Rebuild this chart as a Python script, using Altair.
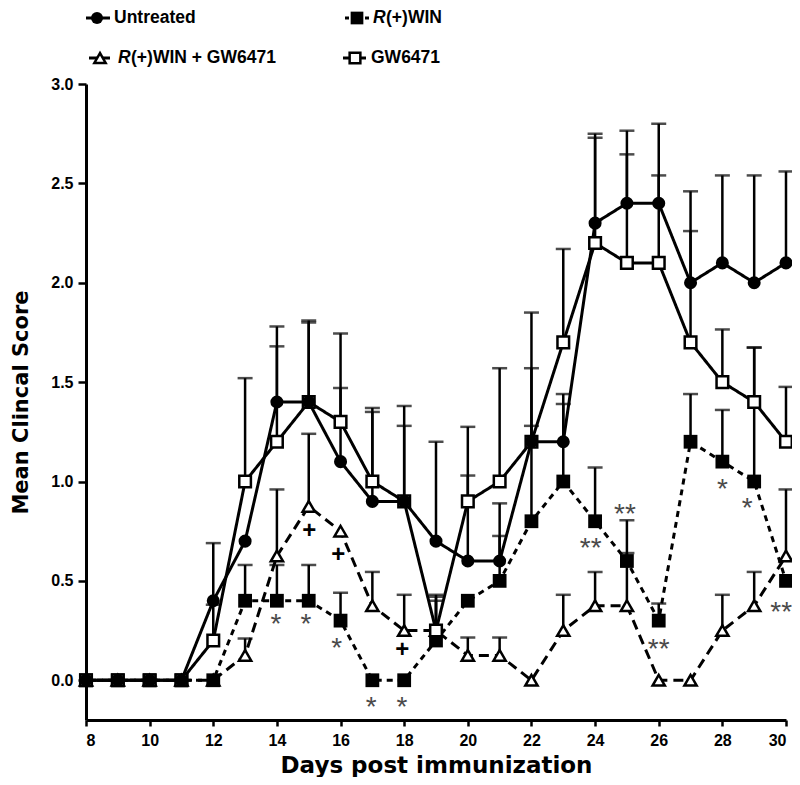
import altair as alt
import pandas as pd

# ---------------- data ----------------
days = list(range(8, 31))

untreated = [0, 0, 0, 0, 0.4, 0.7, 1.4, 1.4, 1.1, 0.9, 0.9, 0.7, 0.6, 0.6, 1.2, 1.2, 2.3, 2.4, 2.4, 2.0, 2.1, 2.0, 2.1]
untreated_upper = [0, 0, 0, 0, 0.69, 0.7, 1.78, 1.81, 1.47, 1.35, 1.38, 1.2, 1.03, 0.89, 1.85, 1.44, 2.73, 2.765, 2.80, 2.46, 2.54, 2.54, 2.56]

rwin = [0, 0, 0, 0, 0, 0.4, 0.4, 0.4, 0.3, 0, 0, 0.2, 0.4, 0.5, 0.8, 1.0, 0.8, 0.6, 0.3, 1.2, 1.1, 1.0, 0.5]
rwin_upper = [0, 0, 0, 0, 0, 0.58, 0.58, 0.58, 0.44, 0, 0, 0.42, 0.4, 0.726, 1.28, 1.39, 1.07, 0.805, 0.386, 1.44, 1.36, 1.674, 0.5]

combo = [0, 0, 0, 0, 0, 0.125, 0.625, 0.875, 0.75, 0.375, 0.25, 0.25, 0.125, 0.125, 0, 0.25, 0.375, 0.375, 0, 0, 0.25, 0.375, 0.625]
combo_upper = [0, 0, 0, 0, 0, 0.21, 0.96, 1.24, 0.75, 0.545, 0.43, 0.40, 0.215, 0.215, 0, 0.43, 0.545, 0.64, 0, 0, 0.43, 0.545, 0.96]

gw = [0, 0, 0, 0, 0.2, 1.0, 1.2, 1.4, 1.3, 1.0, 0.9, 0.25, 0.9, 1.0, 1.2, 1.7, 2.2, 2.1, 2.1, 1.7, 1.5, 1.4, 1.2]
gw_upper = [0, 0, 0, 0, 0.38, 1.52, 1.68, 1.80, 1.745, 1.37, 1.28, 0.43, 1.275, 1.57, 1.57, 2.17, 2.75, 2.646, 2.54, 2.26, 1.765, 1.674, 1.476]

series_names = ["Untreated", "R(+)WIN", "R(+)WIN + GW6471", "GW6471"]

# significance marks
star_days = [13.97, 14.91, 15.88, 16.96, 17.93, 23.86, 24.94, 26.0, 28.0, 28.78, 29.85]
star_vals = [0.318, 0.318, 0.20, -0.10, -0.10, 0.70, 0.87, 0.19, 0.995, 0.90, 0.377]
star_text = ["*", "*", "*", "*", "*", "**", "**", "**", "*", "*", "**"]
plus_days = [15.02, 15.93, 17.94]
plus_vals = [0.755, 0.633, 0.156]

x_ticks = list(range(8, 31, 2))
y_ticks = [0, 0.5, 1.0, 1.5, 2.0, 2.5, 3.0]

# ---------------- tables ----------------
rows = []
for name, vals, ups in zip(series_names,
                           [untreated, rwin, combo, gw],
                           [untreated_upper, rwin_upper, combo_upper, gw_upper]):
    for d, v, u in zip(days, vals, ups):
        rows.append({"day": d, "series": name, "value": v, "upper": u})
df = pd.DataFrame(rows)
stars = pd.DataFrame({"day": star_days, "value": star_vals, "txt": star_text})
pluses = pd.DataFrame({"day": plus_days, "value": plus_vals})
one = pd.DataFrame({"k": [0]})

TICK_FONT = "Liberation Sans"
TITLE_FONT = "DejaVu Sans"
LEG_FONT = "Liberation Sans"

x_scale = alt.Scale(domain=[8, 30], nice=False, zero=False)
y_scale = alt.Scale(domain=[-0.2, 3.0], nice=False, zero=False)

x_axis = alt.Axis(values=x_ticks, title="Days post immunization", grid=False,
                  domainColor="black", domainWidth=3, tickColor="black", tickWidth=2.5,
                  tickSize=6, labelFont=TICK_FONT, labelFontSize=16, labelFontWeight="bold",
                  labelColor="black", labelPadding=6, titleFont=TITLE_FONT, titleFontSize=23,
                  titleFontWeight="bold", titleColor="black", titlePadding=6)
y_axis = alt.Axis(values=y_ticks, format=".1f", title="Mean Clincal Score", grid=False,
                  domainColor="black", domainWidth=3, tickColor="black", tickWidth=2.5,
                  tickSize=8, labelFont=TICK_FONT, labelFontSize=16, labelFontWeight="bold",
                  labelColor="black", labelPadding=5, titleFont=TITLE_FONT, titleFontSize=21,
                  titleFontWeight="bold", titleColor="black", titlePadding=19)


def X(field="day"):
    return alt.X(f"{field}:Q", scale=x_scale, axis=x_axis, title="Days post immunization")


def Y(field="value"):
    return alt.Y(f"{field}:Q", scale=y_scale, axis=y_axis, title="Mean Clincal Score")


styles = {
    "Untreated": dict(dash=[1, 0], shape="circle", fill="black", size=170, sw=0),
    "R(+)WIN": dict(dash=[6, 5], shape="square", fill="black", size=190, sw=0),
    "R(+)WIN + GW6471": dict(dash=[10, 6], shape="triangle-up", fill="white", size=150, sw=2.5),
    "GW6471": dict(dash=[1, 0], shape="square", fill="white", size=135, sw=2.5),
}

base = alt.Chart(df)
layers = []
# error bars
for name in series_names:
    f = base.transform_filter((alt.datum.series == name) & (alt.datum.upper > alt.datum.value))
    layers.append(f.mark_rule(color="black", strokeWidth=2.5).encode(x=X(), y=Y(), y2="upper:Q"))
    layers.append(f.mark_tick(orient="horizontal", color="black", size=15, thickness=2.5)
                  .encode(x=X(), y=Y("upper")))
# lines
for name in ["R(+)WIN + GW6471", "R(+)WIN", "GW6471", "Untreated"]:
    st = styles[name]
    f = base.transform_filter(alt.datum.series == name)
    layers.append(f.mark_line(color="black", strokeWidth=3, strokeDash=st["dash"])
                  .encode(x=X(), y=Y(), order="day:Q"))
# points
for name in ["R(+)WIN + GW6471", "R(+)WIN", "GW6471", "Untreated"]:
    st = styles[name]
    f = base.transform_filter(alt.datum.series == name)
    layers.append(f.mark_point(shape=st["shape"], filled=True, fill=st["fill"], stroke="black",
                               strokeWidth=st["sw"], size=st["size"], opacity=1)
                  .encode(x=X(), y=Y()))

# significance marks
layers.append(alt.Chart(stars).mark_text(font=TICK_FONT, fontSize=28, color="#4a4a4a",
                                         baseline="alphabetic", dy=16, align="center")
              .encode(x=X(), y=Y(), text="txt:N"))
layers.append(alt.Chart(pluses).mark_text(font=TICK_FONT, fontSize=24, fontWeight="bold",
                                          color="black", baseline="alphabetic", dy=8,
                                          align="center")
              .encode(x=X(), y=Y(), text=alt.value("+")))

# ---------------- custom legend (layout in pixels) ----------------
R1, R2 = -66, -26
leg = alt.Chart(one)


def seg(x0, x1, yy, dash=None):
    kw = dict(color="black", strokeWidth=3)
    if dash:
        kw["strokeDash"] = dash
    return leg.mark_rule(**kw).encode(x=alt.value(x0), x2=alt.value(x1), y=alt.value(yy))


def sym(xx, yy, name):
    st = styles[name]
    return leg.mark_point(shape=st["shape"], filled=True, fill=st["fill"], stroke="black",
                          strokeWidth=st["sw"], size=st["size"] * 0.85, opacity=1).encode(
        x=alt.value(xx), y=alt.value(yy))


def txt(xx, yy, s, italic=False):
    kw = dict(font=LEG_FONT, fontSize=17.5, fontWeight="bold", color="black",
              align="left", baseline="middle")
    if italic:
        kw["fontStyle"] = "italic"
    return leg.mark_text(**kw).encode(x=alt.value(xx), y=alt.value(yy), text=alt.value(s))


layers += [
    seg(0, 24, R1), sym(11, R1, "Untreated"), txt(28, R1, "Untreated"),
    seg(259, 263, R1), seg(279, 283, R1), sym(271, R1, "R(+)WIN"),
    txt(287, R1, "R", True), txt(300, R1, "(+)WIN"),
    seg(3, 24, R2), sym(14, R2, "R(+)WIN + GW6471"),
    txt(32, R2, "R", True), txt(45, R2, "(+)WIN + GW6471"),
    seg(257, 280, R2), sym(269, R2, "GW6471"), txt(285, R2, "GW6471"),
]

chart = alt.layer(*layers).properties(
    width=700, height=636,
    autosize=alt.AutoSizeParams(type="none"),
    padding={"left": 78, "top": 76, "right": 6, "bottom": 57},
    background="white",
).configure_view(stroke=None)

chart.save("out.html", embed_options={"renderer": "svg", "actions": False})
